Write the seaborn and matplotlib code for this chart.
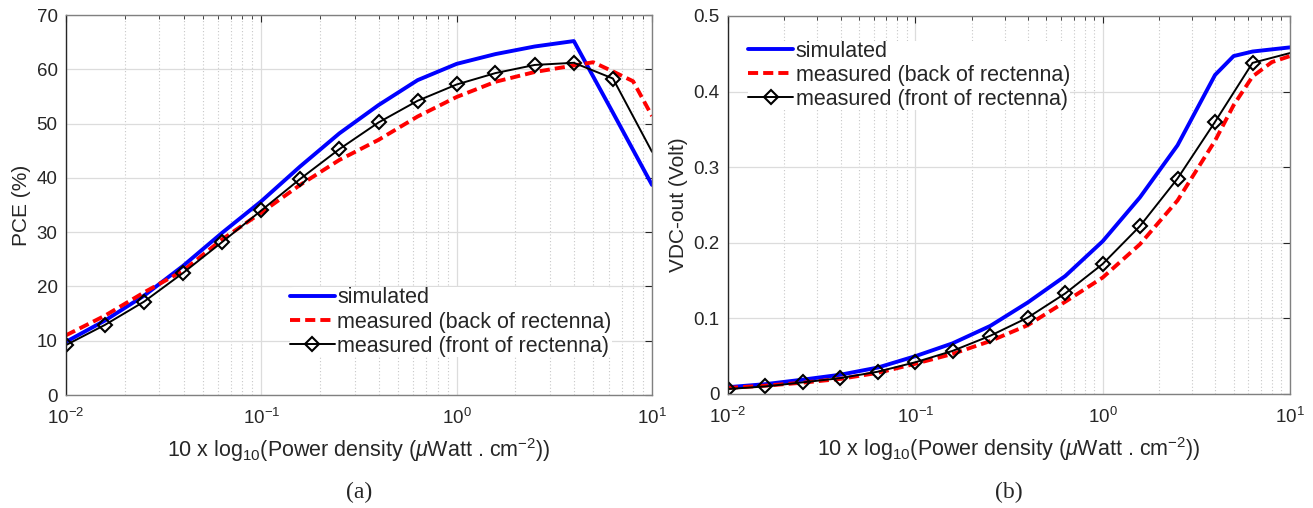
import numpy as np
import pandas as pd
import matplotlib
matplotlib.use("Agg")
import matplotlib.pyplot as plt
import seaborn as sns
from matplotlib.ticker import LogLocator, NullFormatter, MultipleLocator

sns.set_style("white")
plt.rcParams['font.family'] = ['Liberation Sans', 'DejaVu Sans']
plt.rcParams['mathtext.fontset'] = 'custom'
plt.rcParams['mathtext.rm'] = 'Liberation Sans'
plt.rcParams['mathtext.it'] = 'Liberation Sans:italic'

# ---------------- data ----------------
x_grid = [0.01, 0.0158, 0.0251, 0.0398, 0.0631, 0.1, 0.158, 0.251, 0.398,
          0.631, 1.0, 1.58, 2.51, 3.98, 6.31, 10.0]

# (a) PCE (%)
pce_sim_x = [0.01, 0.0158, 0.0251, 0.0398, 0.0631, 0.1, 0.158, 0.251, 0.398,
             0.631, 1.0, 1.58, 2.51, 3.98, 6.31, 10.0]
pce_sim = [9.8, 13.7, 18.3, 23.8, 29.9, 35.7, 42.1, 48.2, 53.4,
           58.0, 61.0, 62.8, 64.2, 65.2, 52.0, 38.7]

pce_back_x = [0.01, 0.0158, 0.0251, 0.0398, 0.0631, 0.1, 0.158, 0.251, 0.398,
              0.631, 1.0, 1.58, 2.51, 3.98, 5.0, 6.31, 8.0, 10.0]
pce_back = [11.0, 14.6, 18.9, 22.9, 28.7, 33.6, 38.7, 43.3, 47.0,
            51.3, 54.9, 57.7, 59.5, 60.7, 61.3, 59.6, 57.8, 51.4]

pce_front_x = x_grid
pce_front = [9.2, 12.9, 17.2, 22.5, 28.2, 34.0, 39.8, 45.3, 50.2,
             54.2, 57.2, 59.3, 60.8, 61.2, 58.3, 44.8]

# (b) VDC-out (Volt)
vdc_sim_x = [0.01, 0.0158, 0.0251, 0.0398, 0.0631, 0.1, 0.158, 0.251, 0.398,
             0.631, 1.0, 1.58, 2.51, 3.98, 5.0, 6.31, 10.0]
vdc_sim = [0.009, 0.013, 0.019, 0.0255, 0.035, 0.050, 0.067, 0.090, 0.121,
           0.156, 0.202, 0.260, 0.329, 0.422, 0.447, 0.453, 0.4585]

vdc_back_x = [0.01, 0.0158, 0.0251, 0.0398, 0.0631, 0.1, 0.158, 0.251, 0.398,
              0.631, 1.0, 1.58, 2.51, 3.98, 5.0, 6.31, 8.0, 10.0]
vdc_back = [0.008, 0.011, 0.015, 0.020, 0.028, 0.040, 0.053, 0.070, 0.091,
            0.122, 0.154, 0.198, 0.256, 0.335, 0.382, 0.420, 0.439, 0.447]

vdc_front_x = x_grid
vdc_front = [0.0066, 0.010, 0.0154, 0.021, 0.0295, 0.042, 0.057, 0.077, 0.101,
             0.133, 0.172, 0.222, 0.285, 0.360, 0.438, 0.451]

labels = ["simulated", "measured (back of rectenna)", "measured (front of rectenna)"]
xlabel = r"10 x log$_{10}$(Power density ($\mu$Watt . cm$^{-2}$))"

# ---------------- figure ----------------
fig = plt.figure(figsize=(13.13, 5.08), dpi=100)
ax1 = fig.add_axes([66/1313, 1-395/508, (652-66)/1313, (395-15)/508])
ax2 = fig.add_axes([728/1313, 1-394/508, (1290-728)/1313, (394-16)/508])

DASH = [2.6, 1.3]

def draw(ax, sx, sy, bx, by, fx, fy):
    sns.lineplot(x=sx, y=sy, ax=ax, color='#0000FF', lw=2.8, label=labels[0],
                 sort=False, estimator=None)
    sns.lineplot(x=bx, y=by, ax=ax, color='#FF0000', lw=2.8, label=labels[1],
                 sort=False, estimator=None)
    ax.lines[-1].set_dashes(DASH)
    sns.lineplot(x=fx, y=fy, ax=ax, color='black', lw=1.4, label=labels[2],
                 sort=False, estimator=None, marker='D', markersize=7.5,
                 markerfacecolor='none', markeredgecolor='black', markeredgewidth=1.5,
                 markevery=list(range(len(fx) - 1)))

def style(ax, ylim, ymajor):
    ax.set_xscale('log')
    ax.set_xlim(0.01, 10)
    ax.set_ylim(*ylim)
    ax.yaxis.set_major_locator(MultipleLocator(ymajor))
    ax.xaxis.set_major_locator(LogLocator(base=10, numticks=10))
    ax.xaxis.set_minor_locator(LogLocator(base=10, subs=np.arange(2, 10), numticks=20))
    ax.xaxis.set_minor_formatter(NullFormatter())
    ax.grid(True, which='major', color='#dcdcdc', lw=0.9, ls='-')
    ax.grid(True, which='minor', axis='x', color='#c8c8c8', lw=0.8, ls=(0, (1, 2)))
    ax.set_axisbelow(True)
    ax.tick_params(which='both', direction='in', top=True, right=True,
                   colors='#262626', labelsize=13.5, pad=6)
    ax.tick_params(axis='x', which='major', pad=9)
    ax.tick_params(which='major', length=5, width=0.8)
    ax.tick_params(which='minor', length=3, width=0.6)
    for side in ['top', 'right', 'bottom']:
        ax.spines[side].set_color('#808080')
        ax.spines[side].set_linewidth(1.0)
    ax.spines['left'].set_color('#262626')
    ax.spines['left'].set_linewidth(1.0)
    for s in ax.spines.values():
        s.set_visible(True)
    ax.set_xlabel(xlabel, fontsize=15.5, color='#262626', labelpad=6)

draw(ax1, pce_sim_x, pce_sim, pce_back_x, pce_back, pce_front_x, pce_front)
style(ax1, (0, 70), 10)
ax1.set_ylabel("PCE (%)", fontsize=15, color='#262626', labelpad=4)

draw(ax2, vdc_sim_x, vdc_sim, vdc_back_x, vdc_back, vdc_front_x, vdc_front)
style(ax2, (0, 0.5), 0.1)
ax2.set_ylabel("VDC-out (Volt)", fontsize=15, color='#262626', labelpad=4)
ax2.yaxis.set_major_formatter(matplotlib.ticker.FuncFormatter(
    lambda v, p: '0' if abs(v) < 1e-9 else f'{v:.1f}'))

leg_kw = dict(fontsize=15.5, frameon=True, facecolor='white', edgecolor='none',
              framealpha=1, handlelength=2.1, handletextpad=0.1,
              labelspacing=0.15, borderpad=0.0, borderaxespad=0.0)
ax1.legend(loc='upper left', bbox_to_anchor=(0.382, 0.283), **leg_kw)
ax2.legend(loc='upper left', bbox_to_anchor=(0.036, 0.935), **leg_kw)
for ax in (ax1, ax2):
    ax.get_legend().get_lines()[1].set_dashes(DASH)

fig.text(359/1313, 1-492/508, "(a)", ha='center', va='center', fontsize=17,
         family='Liberation Serif')
fig.text(1009/1313, 1-492/508, "(b)", ha='center', va='center', fontsize=17,
         family='Liberation Serif')

fig.savefig("out.png", dpi=100)
